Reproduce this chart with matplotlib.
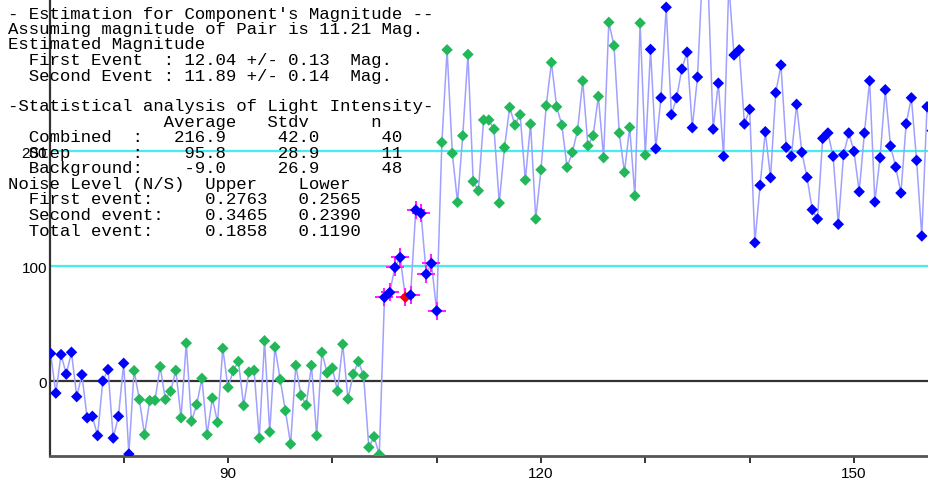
import numpy as np
from matplotlib import pyplot as plt

# light intensity, one value every half step starting at x = 73
x_start = 73.0
x_step = 0.5
intensity = [
    24, -10.5, 23, 6, 25, -13.6, 5.5, -32, -30.7, -47.5,
    0, 10, -49.6, -30.7, 15.4, -63.5, 9, -16, -46.7, -17,
    -16.8, 12.5, -16, -9, 9.3, -32, 33, -35, -20.5, 2.3,
    -46.7, -14.8, -36, 28.4, -5.5, 9, 17, -21.4, 7.8, 9.3,
    -49.6, 35, -44.3, 29.6, 1.4, -25.8, -54.8, 13.6, -12.5, -21,
    13.6, -47.5, 25, 7, 11.3, -8.7, 32, -15.6, 6, 17,
    4.6, -57.7, -48.4, -64, 72.8, 77, 98.8, 107.5, 72.8, 74.8,
    148.7, 145.8, 93, 102.3, 61, 207.5, 288, 198, 155.4, 213.3,
    284, 173.6, 165.5, 227, 227, 219, 154.8, 203, 238, 222.6,
    231.6, 174.8, 223.5, 140.9, 183.7, 239.4, 277, 238.5, 222.6, 185.8,
    198.8, 217.7, 261, 204.6, 213.3, 247.5, 194.2, 311.9, 291.6, 215.7,
    181.5, 220.6, 161, 311.3, 196.5, 288.4, 202, 246.3, 325, 231.6,
    246.3, 271.3, 286, 220.3, 264.3, 360, 350, 219, 259, 195.4,
    345, 283.5, 288, 223.5, 236.3, 120.3, 170.2, 216.8, 176.8, 250.7,
    274.8, 203.2, 195.4, 240.6, 198.9, 177.1, 149, 140.9, 211, 215.7,
    195.4, 136.3, 196.8, 215.7, 199.7, 164.6, 215.7, 261.1, 155.7, 194.2,
    253.3, 204.3, 186.1, 163.5, 223.7, 246.3, 191.9, 126.1, 238.5, 217.7,
]

# how the points are split, in order
segment_kind = ["other", "background", "step", "combined", "other"]
segment_len = [16, 48, 11, 40, 55]
red_point = 68  # index of the red point inside the step

kind_color = {"other": "#0000ff", "background": "#22b85a",
              "step": "#0000ff", "combined": "#22b85a"}

report_lines = [
    "- Estimation for Component's Magnitude --",
    "Assuming magnitude of Pair is 11.21 Mag.",
    "Estimated Magnitude",
    "  First Event  : 12.04 +/- 0.13  Mag.",
    "  Second Event : 11.89 +/- 0.14  Mag.",
    "",
    "-Statistical analysis of Light Intensity-",
    "               Average   Stdv      n",
    "  Combined  :   216.9     42.0      40",
    "  Step      :    95.8     28.9      11",
    "  Background:    -9.0     26.9      48",
    "Noise Level (N/S)  Upper    Lower",
    "  First event:     0.2763   0.2565",
    "  Second event:    0.3465   0.2390",
    "  Total event:     0.1858   0.1190",
]

y = np.array(intensity)
x = x_start + x_step * np.arange(len(y))
kinds = np.repeat(segment_kind, segment_len)[:len(y)]
colors = [kind_color[k] for k in kinds]
colors[red_point] = "#ff0000"
is_step = kinds == "step"

W, H = 929, 481
fig = plt.figure(figsize=(W / 100, H / 100), dpi=100)
ax = fig.add_axes([50 / W, 24 / H, 879 / W, 457 / H])

ax.axhline(0, color="#333333", lw=1.6, zorder=1)
ax.axhline(100, color="#44eeee", lw=1.6, zorder=1)
ax.axhline(200, color="#44eeee", lw=1.6, zorder=1)

ax.plot(x, y, color="#a0a0ff", lw=1.1, zorder=2)
ax.plot(x[is_step], y[is_step], ls="none", marker="+", ms=13, mew=1.5,
        color="#ff22ff", zorder=3)
ax.scatter(x, y, c=colors, marker="D", s=34, linewidths=0, zorder=4)

ax.set_xlim(72.94, 157.19)
ax.set_ylim(-65.2, 332.2)

ax.set_xticks([90, 120, 150])
ax.set_xticks([80, 100, 110, 130, 140], minor=True)
ax.set_yticks([0, 100, 200])
ax.tick_params(axis="x", which="both", direction="out", length=5, width=1.4,
               color="#333333", labelsize=11, pad=2)
ax.tick_params(axis="y", length=0, labelsize=11, pad=2)
for lab in ax.get_xticklabels() + ax.get_yticklabels():
    lab.set_family("Liberation Sans")

for side in ["top", "right"]:
    ax.spines[side].set_visible(False)
ax.spines["left"].set_color("#333333")
ax.spines["left"].set_linewidth(1.6)
ax.spines["bottom"].set_color("#555555")
ax.spines["bottom"].set_linewidth(2)

for k, line in enumerate(report_lines):
    fig.text(8.3 / W, 1 - (18.5 + 15.5 * k) / H, line, ha="left", va="baseline",
             family=["Liberation Mono", "DejaVu Sans Mono"], fontsize=12.5,
             color="black", zorder=10)

fig.savefig("out.png", dpi=100)
